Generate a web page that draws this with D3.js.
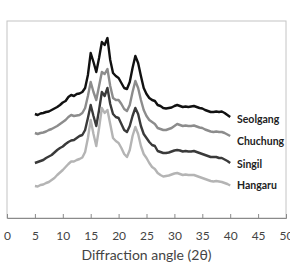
<!DOCTYPE html>
<html><head><meta charset="utf-8">
<script src="https://cdn.jsdelivr.net/npm/d3@7"></script>
<style>body{margin:0;background:#fff}svg{display:block}</style>
</head><body><svg id="c" width="290" height="262"></svg>
<script>
const angles = d3.range(5, 40.001, 0.5); // 2θ sample positions
const xTicks = [0,5,10,15,20,25,30,35,40,45,50];
const seriesNames = ["Seolgang","Chuchung","Singil","Hangaru"];
const seolgang = [104,103,104.5,105,106,106.5,108,109.5,111,113,
 115.5,117,121,123,122,124,124.5,126,130,143,
 165,156,146,160,176,173,180,158,145,142,
 140,135,130,129,136,150,162,155,142,130,
 124,120,118,117,113,112,110,109.5,110,110.5,
 112,113,112,111,111.5,111,111.5,112,111,110,
 109.5,108,107,106,106,106.5,106,106.5,105,103,101];
const chuchung = [85,84,85,85.5,86.5,88,89,90.5,92,94,
 96,98,101,103,102,102.5,103,105,110,122,
 136,126,118,132,146,144,149,132,120,118,
 118,114,109,107,113,126,137,130,118,108,
 102,98,96,94,90,89,88,88,89,90,
 92,94,93,92,92.5,92,92,92.5,91.5,90.5,
 90,88.5,87.5,86.5,86,86.5,86,86,85,83.5,82];
const singil = [55,56,57,58,60,61.5,63,65.5,68,70,
 71.5,74,76,77.5,78,80,82,83,88,100,
 113,102,92,108,126,122,130,114,104,101,
 100,94,88,86,92,102,110,104,92,84,
 80,76,73,72,67,66,65,65,65.5,66.5,
 67.5,68,67.5,66.5,67,66.5,66.5,67,66,65,
 64,63,62,61,61,61,60,60,58.5,57,55];
const hangaru = [32,31.5,33,33.5,35,36,38,40,43,45.5,
 48,51,54,56.5,56.5,58,59,60.5,66,80,
 98,84,72,90,110,105,108,94,80,77,
 75,70,64,61,68,82,91,84,72,64,
 60,55,51,49,45,43,41.5,42,42.5,43.5,
 44.5,45,44,43,43.5,43,43,43,42,41,
 40,39,38,37,36.5,37,36.5,36,35,34,32.5];
const seriesValues = [seolgang, chuchung, singil, hangaru];
const colors = ["#111111","#8c8c8c","#3a3a3a","#b4b4b4"];
const labelY = [99, 77, 54, 33]; // intensity level where each label sits

const svg = d3.select("#c");
const L=7, R=286, T=21, B=218;
const x = d3.scaleLinear().domain([0,50]).range([L,R]);
const y = d3.scaleLinear().domain([0,197]).range([B,T]);

svg.append("rect").attr("x",L).attr("y",T).attr("width",R-L).attr("height",B-T)
  .attr("fill","none").attr("stroke","#c4c4c4").attr("stroke-width",1);

const line = d3.line().x((d,i)=>x(angles[i])).y(d=>y(d));
seriesValues.forEach((vals,k)=>{
  svg.append("path").datum(vals).attr("d",line).attr("fill","none")
    .attr("stroke",colors[k]).attr("stroke-width",2.4).attr("stroke-linejoin","round");
});

const ax = svg.append("g").attr("transform",`translate(0,${B})`)
  .call(d3.axisBottom(x).tickValues(xTicks).tickSize(-4).tickPadding(13).tickFormat(d3.format("d")));
ax.select(".domain").attr("stroke","#8a8a8a");
ax.selectAll(".tick line").attr("stroke","#8a8a8a");
ax.selectAll(".tick text").attr("fill","#444").attr("font-family","Lato").attr("font-size","12px");

svg.append("text").attr("x",146.5).attr("y",260).attr("text-anchor","middle")
  .attr("font-family","Lato").attr("font-size","14px").attr("fill","#444")
  .text("Diffraction angle (2θ)");

seriesNames.forEach((n,k)=>{
  svg.append("text").attr("x",237).attr("y",y(labelY[k])+4)
    .attr("font-family","Lato").attr("font-weight","bold").attr("font-size","10.5px")
    .attr("fill","#222").text(n);
});
</script></body></html>
